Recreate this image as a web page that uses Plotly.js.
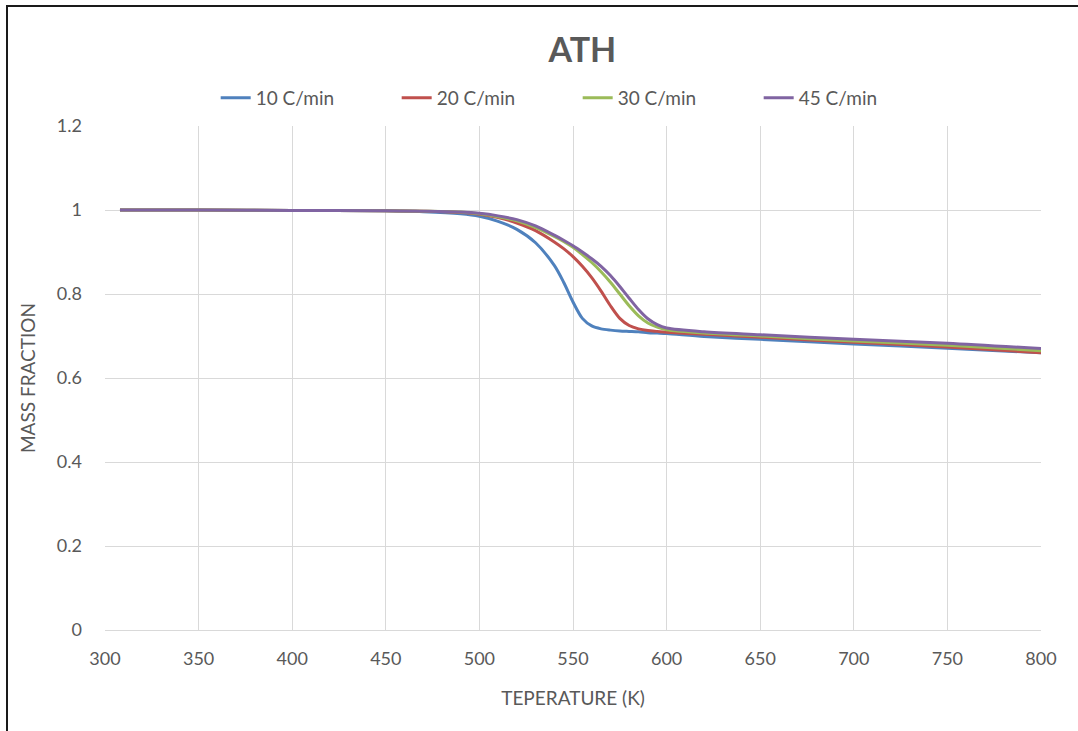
<!DOCTYPE html>
<html>
<head>
<meta charset="utf-8">
<script src="https://cdn.plot.ly/plotly-3.0.1.min.js"></script>
<style>
  html, body { margin: 0; padding: 0; background: #ffffff; }
  #frame { position: absolute; left: 6px; top: 5px; width: 1072px; height: 726px;
           border-left: 2px solid #1a1a1a; border-top: 2px solid #1a1a1a; pointer-events: none; z-index: 5; }
  #chart { position: absolute; left: 0; top: 0; width: 1078px; height: 731px; }
</style>
</head>
<body>
<div id="chart"></div>
<div id="frame"></div>
<script>
const temperature = [308, 350, 400, 450, 470, 490, 500, 510, 520, 530, 540, 545, 550, 555, 560, 565, 570, 575, 580, 585, 590, 595, 600, 620, 650, 700, 750, 800];

const rate10 = [1.0, 1.0, 0.999, 0.998, 0.996, 0.991, 0.985, 0.973, 0.954, 0.922, 0.868, 0.828, 0.781, 0.742, 0.724, 0.717, 0.714, 0.712, 0.711, 0.710, 0.708, 0.707, 0.706, 0.699, 0.692, 0.681, 0.671, 0.660];
const rate20 = [1.0, 1.0, 0.999, 0.998, 0.997, 0.994, 0.990, 0.982, 0.969, 0.951, 0.924, 0.908, 0.889, 0.866, 0.839, 0.807, 0.772, 0.742, 0.725, 0.717, 0.713, 0.711, 0.709, 0.704, 0.697, 0.685, 0.674, 0.660];
const rate30 = [1.0, 1.0, 0.999, 0.998, 0.997, 0.995, 0.991, 0.984, 0.974, 0.958, 0.937, 0.925, 0.911, 0.894, 0.875, 0.853, 0.828, 0.800, 0.772, 0.748, 0.731, 0.721, 0.715, 0.707, 0.700, 0.688, 0.678, 0.665];
const rate45 = [1.0, 1.0, 0.999, 0.998, 0.997, 0.995, 0.992, 0.986, 0.977, 0.962, 0.940, 0.928, 0.915, 0.900, 0.884, 0.866, 0.844, 0.818, 0.790, 0.763, 0.741, 0.727, 0.719, 0.710, 0.703, 0.692, 0.683, 0.670];

const seriesNames = ["10 C/min", "20 C/min", "30 C/min", "45 C/min"];
const seriesValues = [rate10, rate20, rate30, rate45];
const seriesColors = ["#4F81BD", "#C0504D", "#9BBB59", "#8064A2"];

const xTicks = [300, 350, 400, 450, 500, 550, 600, 650, 700, 750, 800];
const yTicks = [0, 0.2, 0.4, 0.6, 0.8, 1, 1.2];
const yTickText = ["0", "0.2", "0.4", "0.6", "0.8", "1", "1.2"];

const FONT = "Lato, 'Open Sans', sans-serif";
const GREY = "#595959";

const traces = seriesNames.map((name, i) => ({
  type: "scatter",
  mode: "lines",
  name: name,
  x: temperature,
  y: seriesValues[i],
  line: { color: seriesColors[i], width: 3, shape: "spline", smoothing: 0.8 }
}));

const layout = {
  width: 1078,
  height: 731,
  margin: { l: 105, r: 37, t: 126, b: 101 },
  paper_bgcolor: "#ffffff",
  plot_bgcolor: "#ffffff",
  font: { family: FONT, color: GREY, size: 18 },
  title: {
    text: "<b>ATH</b>",
    font: { family: FONT, size: 34, color: GREY },
    x: 0.51, xref: "paper", xanchor: "center",
    y: 1 - 50 / 731, yref: "container", yanchor: "middle"
  },
  showlegend: true,
  legend: {
    orientation: "h",
    x: 0.505, xanchor: "center",
    y: 1 + 28 / 504, yanchor: "middle",
    font: { family: FONT, size: 19, color: GREY },
    entrywidth: 136,
    entrywidthmode: "pixels",
    traceorder: "normal",
    bgcolor: "rgba(0,0,0,0)"
  },
  xaxis: {
    range: [300, 800],
    tickvals: xTicks,
    ticktext: xTicks.map(String),
    showgrid: true,
    gridcolor: "#D9D9D9",
    gridwidth: 1,
    zeroline: false,
    showline: true,
    linecolor: "#D9D9D9",
    linewidth: 1,
    ticks: "",
    ticklabelstandoff: 12,
    tickfont: { family: FONT, size: 18, color: GREY },
    title: { text: "TEPERATURE (K)", font: { family: FONT, size: 19, color: GREY }, standoff: 24 }
  },
  yaxis: {
    range: [0, 1.2],
    tickvals: yTicks,
    ticktext: yTickText,
    showgrid: true,
    gridcolor: "#D9D9D9",
    gridwidth: 1,
    zeroline: false,
    showline: false,
    ticks: "",
    ticklabelstandoff: 22,
    tickfont: { family: FONT, size: 18, color: GREY },
    title: { text: "MASS FRACTION", font: { family: FONT, size: 19, color: GREY }, standoff: 16 }
  }
};

Plotly.newPlot("chart", traces, layout, { displayModeBar: false, staticPlot: true });
</script>
</body>
</html>
